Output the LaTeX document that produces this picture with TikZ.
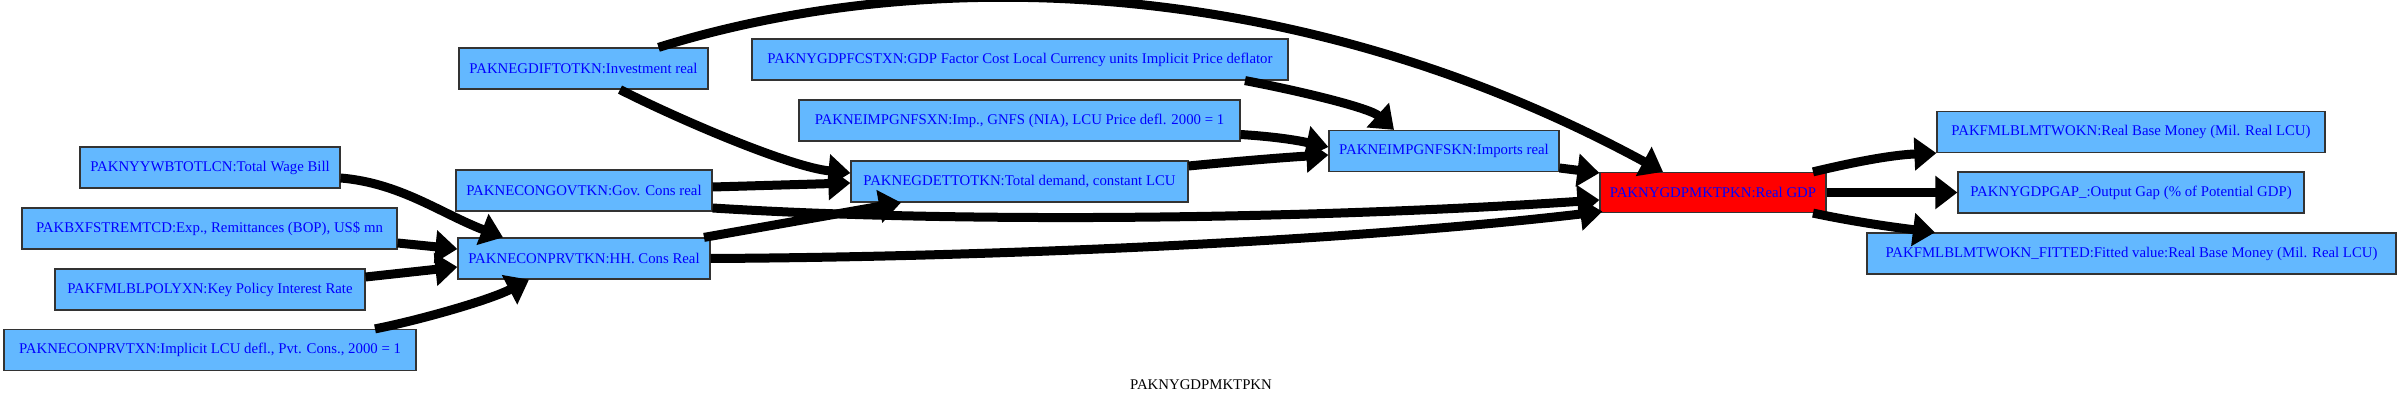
\documentclass[tikz,border=0pt]{standalone}
\usepackage{fontspec}
\setmainfont{Liberation Serif}
\usetikzlibrary{arrows.meta,calc}
\definecolor{nodeblue}{HTML}{63B8FF}
\definecolor{txtblue}{HTML}{0000FF}
\definecolor{gdpred}{HTML}{FF0000}
\begin{document}
\begin{tikzpicture}[x=1pt,y=1pt,
  box/.style={draw=black!80, line width=1.2pt, fill=nodeblue, text=txtblue,
    minimum height=41pt, inner sep=0pt, font=\fontsize{14.8}{17}\selectfont},
  edge/.style={line width=9pt, -{Triangle[length=22pt,width=32pt]}},
  caption/.style={text=black, font=\fontsize{14.8}{17}\selectfont}
]
\useasboundingbox (0,0) rectangle (2400,403);
% nodes
\node[box, minimum width=249pt] (inv) at (583.5,334.5) {PAKNEGDIFTOTKN:Investment real};
\node[box, minimum width=536pt] (fcs) at (1020,343.5) {PAKNYGDPFCSTXN:GDP Factor Cost Local Currency units Implicit Price deflator};
\node[box, minimum width=441pt] (impx) at (1019.5,282.5) {PAKNEIMPGNFSXN:Imp., GNFS (NIA), LCU Price defl. 2000 = 1};
\node[box, minimum width=230pt] (impr) at (1444,252) {PAKNEIMPGNFSKN:Imports real};
\node[box, minimum width=337pt] (tot) at (1019.5,221.5) {PAKNEGDETTOTKN:Total demand, constant LCU};
\node[box, minimum width=260pt] (wage) at (210,235.5) {PAKNYYWBTOTLCN:Total Wage Bill};
\node[box, minimum width=256pt] (gov) at (584,212.5) {PAKNECONGOVTKN:Gov. Cons real};
\node[box, fill=gdpred, minimum width=226pt, minimum height=40pt] (gdp) at (1713,210.5) {PAKNYGDPMKTPKN:Real GDP};
\node[box, minimum width=375pt] (exp) at (209.5,174.5) {PAKBXFSTREMTCD:Exp., Remittances (BOP), US\$ mn};
\node[box, minimum width=252pt] (hh) at (584,144.5) {PAKNECONPRVTKN:HH. Cons Real};
\node[box, minimum width=310pt] (key) at (210,113.5) {PAKFMLBLPOLYXN:Key Policy Interest Rate};
\node[box, minimum width=412pt] (impl) at (210,53) {PAKNECONPRVTXN:Implicit LCU defl., Pvt. Cons., 2000 = 1};
\node[box, minimum width=388pt] (bm) at (2131,271) {PAKFMLBLMTWOKN:Real Base Money (Mil. Real LCU)};
\node[box, minimum width=346pt] (gap) at (2131,210.5) {PAKNYGDPGAP\_:Output Gap (\% of Potential GDP)};
\node[box, minimum width=529pt] (fit) at (2131.5,149.5) {PAKFMLBLMTWOKN\_FITTED:Fitted value:Real Base Money (Mil. Real LCU)};
\node[caption] (title) at (1201,18) {PAKNYGDPMKTPKN};
% edges
\draw[edge] ($(inv.north)+(75,0)$) .. controls (930,440) and (1300,428) .. ($(gdp.north)+(-50,0)$);
\draw[edge] ($(inv.south)+(36.5,0)$) .. controls (680,283) and (790,236) .. ($(tot.west)+(0,8.5)$);
\draw[edge] ($(fcs.south)+(225,0)$) .. controls (1300,312) and (1370,295) .. ($(impr.north)+(-50,0)$);
\draw[edge] ($(impx.east)+(0,-14)$) .. controls (1280,266) and (1300,262) .. ($(impr.west)+(0,4)$);
\draw[edge] ($(tot.east)+(0,15.5)$) .. controls (1240,242) and (1290,246) .. ($(impr.west)+(0,-4)$);
\draw[edge] ($(impr.east)+(0,-17)$) -- ($(gdp.west)+(0,19.5)$);
\draw[edge] ($(gov.east)+(0,3.5)$) -- ($(tot.west)+(0,-1.5)$);
\draw[edge] ($(gov.east)+(0,-17.5)$) .. controls (950,180) and (1300,183) .. ($(gdp.west)+(0,-7.5)$);
\draw[edge] ($(hh.north)+(120,0)$) -- ($(tot.south)+(-118.5,0)$);
\draw[edge] (hh.east) .. controls (1000,146) and (1350,162) .. ($(gdp.west)+(3,-19)$);
\draw[edge] ($(wage.east)+(0,-10.5)$) .. controls (400,220) and (440,190) .. ($(hh.north)+(-81,0)$);
\draw[edge] ($(exp.east)+(0,-14.5)$) -- ($(hh.west)+(0,9.5)$);
\draw[edge] ($(key.east)+(0,12.5)$) -- ($(hh.west)+(0,-8.5)$);
\draw[edge] ($(impl.north)+(165,0)$) .. controls (420,83) and (490,103) .. ($(hh.south)+(-55,0)$);
\draw[edge] ($(gdp.north)+(100,0)$) .. controls (1850,240) and (1890,248) .. (bm.south west);
\draw[edge] (gdp.east) -- (gap.west);
\draw[edge] ($(gdp.south)+(100,0)$) .. controls (1860,180) and (1900,175) .. ($(fit.north)+(-196.5,0)$);
\end{tikzpicture}
\end{document}
